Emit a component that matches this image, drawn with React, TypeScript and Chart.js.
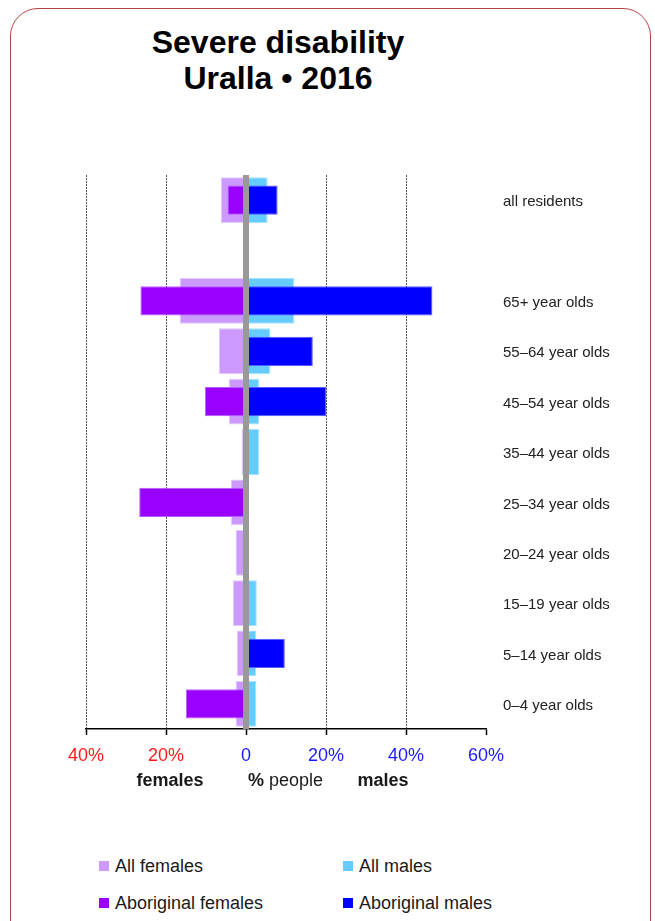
import React, { useEffect, useRef } from "react";
import { Chart, registerables } from "chart.js";

Chart.register(...registerables);

const categories = [
  "all residents",
  "",
  "65+ year olds",
  "55–64 year olds",
  "45–54 year olds",
  "35–44 year olds",
  "25–34 year olds",
  "20–24 year olds",
  "15–19 year olds",
  "5–14 year olds",
  "0–4 year olds",
];

// % of people (females shown to the left)
const allFemales = [6.3, null, 16.6, 6.8, 4.3, 1.1, 3.8, 2.6, 3.3, 2.3, 2.6];
const allMales = [5.4, null, 12.1, 6.1, 3.3, 3.3, null, null, 2.7, 2.5, 2.6];
const aboriginalFemales = [4.6, null, 26.4, null, 10.3, null, 26.7, null, null, null, 15.0];
const aboriginalMales = [7.9, null, 46.6, 16.7, 20.1, null, null, null, null, 9.7, null];

const xTicks = [-40, -20, 0, 20, 40, 60];

const FONT = "'Liberation Sans', Arial, Helvetica, sans-serif";

const neg = (arr: (number | null)[]) => arr.map((v) => (v == null ? null : -v));

export default function App() {
  const ref = useRef<HTMLCanvasElement>(null);

  useEffect(() => {
    const canvas = ref.current;
    if (!canvas) return;
    const zeroLine = {
      id: "zeroLine",
      afterDatasetsDraw(chart: any) {
        const { ctx, chartArea, scales } = chart;
        const x = scales.x.getPixelForValue(0);
        ctx.save();
        ctx.fillStyle = "#999999";
        ctx.fillRect(x - 3, chartArea.top, 6, chartArea.bottom - chartArea.top);
        ctx.restore();
      },
    };
    const chart = new Chart(canvas, {
      type: "bar",
      data: {
        labels: categories,
        datasets: [
          {
            label: "Aboriginal females",
            data: neg(aboriginalFemales),
            backgroundColor: "#9900ff",
            borderColor: "#b760ff",
            borderWidth: 1,
            barPercentage: 0.58,
            categoryPercentage: 1,
            order: 1,
          },
          {
            label: "Aboriginal males",
            data: aboriginalMales,
            backgroundColor: "#0000ff",
            borderColor: "#5a5aff",
            borderWidth: 1,
            barPercentage: 0.58,
            categoryPercentage: 1,
            order: 1,
          },
          {
            label: "All females",
            data: neg(allFemales),
            backgroundColor: "#cc99ff",
            borderColor: "#e2c8ff",
            borderWidth: 1,
            barPercentage: 0.91,
            categoryPercentage: 1,
            order: 2,
          },
          {
            label: "All males",
            data: allMales,
            backgroundColor: "#66ccff",
            borderColor: "#a6e2ff",
            borderWidth: 1,
            barPercentage: 0.91,
            categoryPercentage: 1,
            order: 2,
          },
        ] as any,
      },
      options: {
        indexAxis: "y",
        animation: false,
        responsive: false,
        maintainAspectRatio: false,
        devicePixelRatio: 1,
        layout: { padding: { left: 86, top: 175, right: 0, bottom: 0 } },
        plugins: {
          legend: { display: false },
          tooltip: { enabled: false },
          title: { display: false },
        },
        datasets: { bar: { grouped: false } } as any,
        scales: {
          x: {
            type: "linear",
            min: -40,
            max: 60,
            afterBuildTicks: (scale: any) => {
              scale.ticks = xTicks.map((v) => ({ value: v }));
            },
            afterFit: (scale: any) => {
              scale.height = 71;
            },
            ticks: {
              padding: 10,
              font: { family: FONT, size: 18 },
              color: (ctx: any) => (ctx.tick && ctx.tick.value < 0 ? "#ff1a1a" : "#1a1aff"),
              callback: (v: any) => (Number(v) === 0 ? "0" : Math.abs(Number(v)) + "%"),
            },
            grid: {
              display: true,
              drawOnChartArea: true,
              drawTicks: true,
              tickLength: 6,
              tickColor: "#000000",
              tickWidth: 1.5,
              tickBorderDash: [],
              lineWidth: 1,
              color: (ctx: any) =>
                ctx.tick && (ctx.tick.value === 0 || ctx.tick.value === 60) ? "rgba(0,0,0,0)" : "#555555",
            } as any,
            border: { display: true, color: "#000000", width: 1.5, dash: [2, 1] } as any,
          },
          y: {
            type: "category",
            position: "right",
            afterFit: (scale: any) => {
              scale.width = 169;
            },
            ticks: {
              padding: 17,
              labelOffset: 2,
              font: { family: FONT, size: 15 },
              color: "#222222",
              crossAlign: "near",
            },
            grid: { display: false, drawTicks: false },
            border: { display: false },
          },
        },
      } as any,
      plugins: [zeroLine],
    });
    return () => chart.destroy();
  }, []);

  const textBase: React.CSSProperties = {
    position: "absolute",
    fontFamily: FONT,
    color: "#1a1a1a",
    whiteSpace: "nowrap",
    lineHeight: "20px",
  };

  const legendItem = (x: number, y: number, color: string, label: string) => (
    <div style={{ ...textBase, left: x, top: y - 10, fontSize: 18, display: "flex", alignItems: "center" }}>
      <span style={{ display: "inline-block", width: 10, height: 10, background: color, marginRight: 6 }} />
      <span>{label}</span>
    </div>
  );

  return (
    <div style={{ position: "absolute", left: 0, top: 0, width: 655, height: 921, overflow: "hidden", background: "#fff" }}>
      <div
        style={{
          position: "absolute",
          left: 10,
          top: 8,
          width: 641,
          height: 960,
          border: "1px solid #b04545",
          borderRadius: 28,
          boxSizing: "border-box",
        }}
      />
      <div
        style={{
          ...textBase,
          left: 0,
          top: 24,
          width: 556,
          textAlign: "center",
          fontSize: 32,
          fontWeight: "bold",
          lineHeight: "36px",
          color: "#000",
        }}
      >
        Severe disability
        <br />
        Uralla • 2016
      </div>
      <canvas ref={ref} width={655} height={800} style={{ position: "absolute", left: 0, top: 0, width: 655, height: 800 }} />
      <div style={{ ...textBase, left: 120, width: 100, top: 770, fontSize: 18, fontWeight: "bold", textAlign: "center" }}>
        females
      </div>
      <div style={{ ...textBase, left: 248, top: 770, fontSize: 18 }}>
        <b>%</b> people
      </div>
      <div style={{ ...textBase, left: 333, width: 100, top: 770, fontSize: 18, fontWeight: "bold", textAlign: "center" }}>
        males
      </div>
      {legendItem(99, 866, "#cc99ff", "All females")}
      {legendItem(343, 866, "#66ccff", "All males")}
      {legendItem(99, 903, "#9900ff", "Aboriginal females")}
      {legendItem(343, 903, "#0000ff", "Aboriginal males")}
    </div>
  );
}
